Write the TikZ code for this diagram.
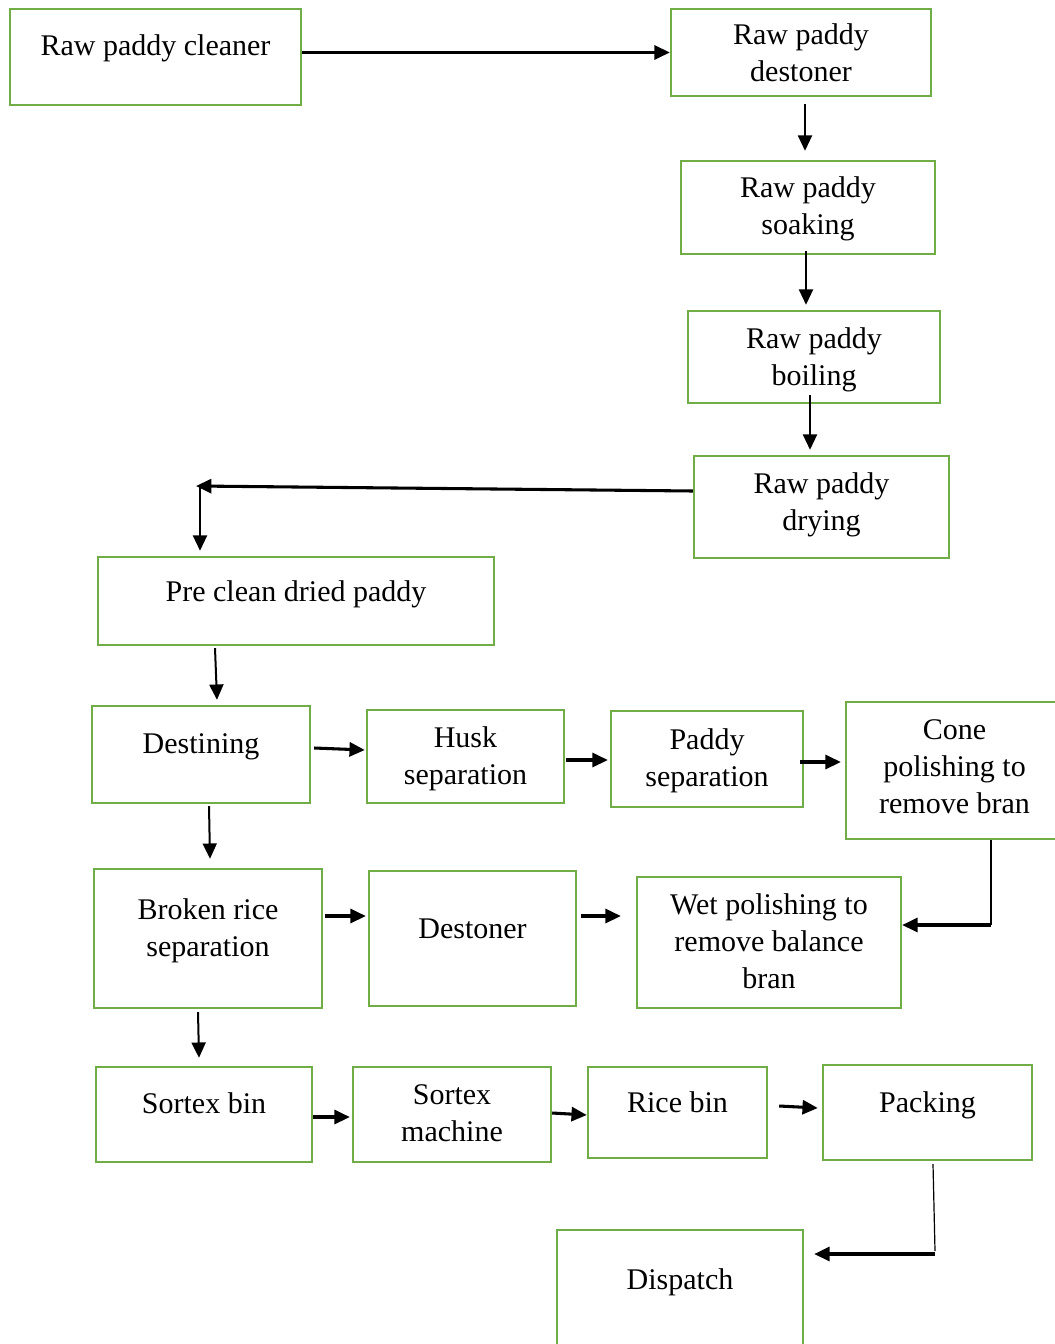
\documentclass[tikz,border=0pt]{standalone}
\usepackage{fontspec}
\setmainfont{Liberation Serif}
\usetikzlibrary{arrows.meta,fit,calc}

\definecolor{boxgreen}{RGB}{112,173,71}

\tikzset{
  box/.style={draw=boxgreen, line width=1.8pt, inner sep=0pt},
  txt/.style={align=center, inner sep=0pt, font=\fontsize{22.5pt}{27.75pt}\selectfont},
  tip/.style={-{Triangle[length=11.5pt,width=10.5pt]}},
  flow/.style={tip, line width=1.5pt},
  flowbold/.style={tip, line width=2.3pt},
  plain/.style={line width=1.5pt},
}

% name, left, top, right, bottom, baseline of the last line, text
\newcommand\flowbox[7]{%
  \node[box, fit={(#2,#3)(#4,#5)}] (#1) {};
  \node[txt, anchor=base] (#1-t) at ({(#2+#4)/2},#6) {#7};
}

\begin{document}
\begin{tikzpicture}[x=0.75pt, y=-0.75pt]
\useasboundingbox (0,0) rectangle (1054,1344);

% process steps
\flowbox{cleaner}{10}{9}{301}{105}{56}{Raw paddy cleaner}
\flowbox{destoner}{671}{9}{931}{96}{82}{Raw paddy\\destoner}
\flowbox{soaking}{681}{161}{935}{254}{235}{Raw paddy\\soaking}
\flowbox{boiling}{688}{311}{940}{403}{385}{Raw paddy\\boiling}
\flowbox{drying}{694}{456}{949}{558}{530}{Raw paddy\\drying}
\flowbox{preclean}{98}{557}{494}{645}{601}{Pre clean dried paddy}
\flowbox{destining}{92}{706}{310}{803}{753}{Destining}
\flowbox{husk}{367}{710}{564}{803}{784}{Husk\\separation}
\flowbox{paddy}{611}{711}{803}{807}{786}{Paddy\\separation}
\flowbox{cone}{846}{702}{1063}{839}{813}{Cone\\polishing to\\remove bran}
\flowbox{broken}{94}{869}{322}{1008}{956}{Broken rice\\separation}
\flowbox{destonerb}{369}{871}{576}{1006}{938}{Destoner}
\flowbox{wet}{637}{877}{901}{1008}{988}{Wet polishing to\\remove balance\\bran}
\flowbox{sortexbin}{96}{1067}{312}{1162}{1113}{Sortex bin}
\flowbox{sortexm}{353}{1067}{551}{1162}{1141}{Sortex\\machine}
\flowbox{ricebin}{588}{1067}{767}{1158}{1112}{Rice bin}
\flowbox{packing}{823}{1065}{1032}{1160}{1112}{Packing}
\flowbox{dispatch}{557}{1230}{803}{1354}{1289}{Dispatch}

% bend points
\coordinate (bendA) at (196,486);
\coordinate (bendB) at (991,925);
\coordinate (bendC) at (935,1254);

% connectors
\draw[flowbold] (cleaner.east |- destoner.west) -- (destoner.west);
\draw[flow] ($(destoner.south)+(4,7)$) -- ($(soaking.north)+(-3,-9)$);
\draw[flow] ($(soaking.south)+(-2,-4)$) -- ($(boiling.north)+(-8,-5)$);
\draw[flow] ($(boiling.south)+(-4,-9)$) -- ($(drying.north)+(-11.5,-5)$);
\draw[flowbold] ($(drying.west)+(0,-16)$) -- (bendA);
\draw[flow] ($(bendA)+(4,1)$) -- ($(preclean.north)+(-96,-5)$);
\draw[flow] ($(preclean.south)+(-81,2)$) -- ($(destining.north)+(16,-5)$);
\draw[flowbold] ($(destining.east)+(3,-6.5)$) -- ($(husk.west)+(-1,-6.5)$);
\draw[flowbold] ($(husk.east)+(1,3.5)$) -- ($(paddy.west)+(-2,1)$);
\draw[flowbold] ($(paddy.east)+(-4,3)$) -- ($(cone.west)+(-4,-8.5)$);
\draw[plain] (bendB |- cone.south) -- (bendB);
\draw[flowbold] (bendB) -- (wet.east |- bendB);
\draw[flow] ($(destining.south)+(8,2)$) -- ($(broken.north)+(2,-9)$);
\draw[flowbold] ($(broken.east)+(2,-22.5)$) -- ($(destonerb.west)+(-2,-22.5)$);
\draw[flowbold] ($(destonerb.east)+(4,-22.5)$) -- ($(wet.west)+(-15,-26.5)$);
\draw[flow] ($(broken.south)+(-10,3)$) -- ($(sortexbin.north)+(-5,-8)$);
\draw[flowbold] ($(sortexbin.east)+(0,2.5)$) -- ($(sortexm.west)+(-2,2.5)$);
\draw[flowbold] ($(sortexm.east)+(0,-1.5)$) -- ($(ricebin.west)+(0,2.5)$);
\draw[flowbold] ($(ricebin.east)+(11,-6.5)$) -- ($(packing.west)+(-4,-4.5)$);
\draw[line width=0.9pt] ($(packing.south)+(5.5,3)$) -- ($(bendC)+(0,-3)$);
\draw[flowbold] (bendC) -- ($(dispatch.east |- bendC)+(10,0)$);
\end{tikzpicture}
\end{document}
